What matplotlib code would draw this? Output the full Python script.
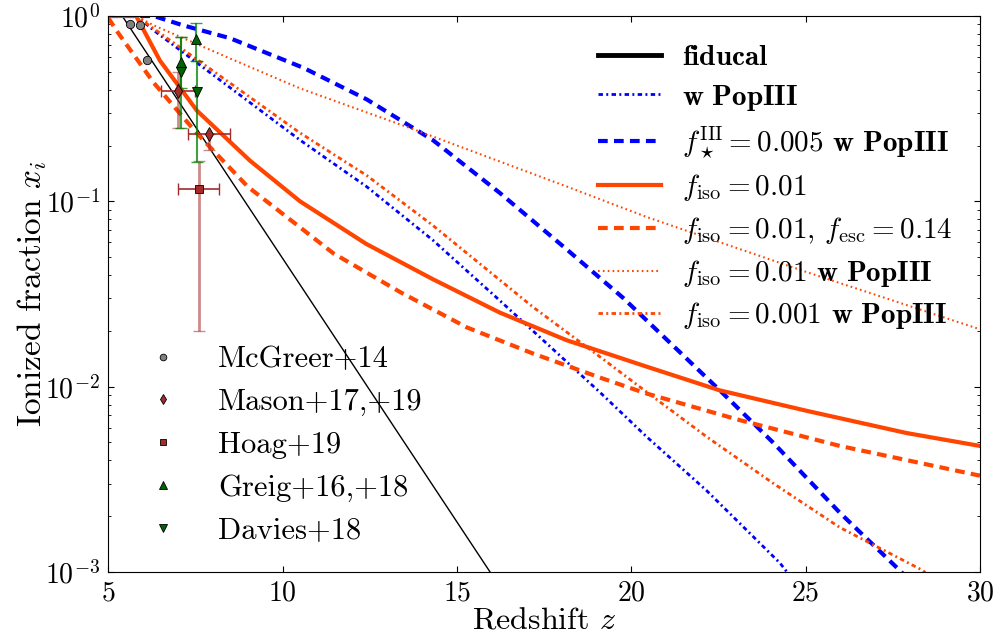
import matplotlib
matplotlib.use("Agg")
import matplotlib.pyplot as plt

plt.rcParams.update({
    "font.family": "serif",
    "font.serif": ["cmr10"],
    "mathtext.fontset": "cm",
    "axes.formatter.use_mathtext": True,
    "lines.scale_dashes": False,
    "xtick.direction": "in",
    "ytick.direction": "in",
    "xtick.top": True,
    "ytick.right": True,
    "xtick.major.size": 4,
    "ytick.major.size": 4,
    "ytick.minor.size": 2,
    "xtick.major.pad": 6,
    "ytick.major.pad": 6,
})

# ionization histories x_i(z)
z_fid = [5.0, 5.4, 8.0, 10.5, 13.0, 15.95, 16.2]
xi_fid = [1.0, 1.0, 0.182, 0.0355, 0.0069, 0.001, 0.00085]

z_p3 = [5.0, 5.8, 6.39, 10.5, 12.41, 14.31, 16.14, 17.18, 19.1, 20.44, 22.16, 24.26, 24.6]
xi_p3 = [1.0, 1.0, 0.813, 0.214, 0.120, 0.0617, 0.0302, 0.0200, 0.00933, 0.00537, 0.00275, 0.00112, 0.00093]

z_p3_low = [5.0, 6.3, 7.14, 8.49, 10.6, 12.41, 14.31, 16.23, 18.15, 19.76, 22.54, 24.06, 25.98, 27.7, 28.0]
xi_p3_low = [1.0, 1.0, 0.891, 0.759, 0.525, 0.355, 0.214, 0.111, 0.055, 0.0302, 0.00955, 0.00501, 0.00209, 0.00102, 0.00089]

z_iso = [5.0, 5.8, 6.48, 7.54, 9.06, 10.5, 12.4, 14.31, 16.23, 18.15, 20.4, 22.54, 25.03, 27.9, 30.0]
xi_iso = [1.0, 1.0, 0.575, 0.309, 0.166, 0.100, 0.0589, 0.0380, 0.0251, 0.0178, 0.0129, 0.00955, 0.00741, 0.00562, 0.00479]

z_iso_esc = [5.0, 5.24, 6.3, 7.53, 9.0, 10.5, 11.45, 13.37, 15.28, 17.18, 19.1, 20.4, 23.1, 25.98, 30.0]
xi_iso_esc = [0.977, 0.832, 0.437, 0.234, 0.120, 0.0724, 0.0525, 0.0324, 0.0209, 0.0151, 0.0112, 0.00923, 0.00661, 0.00479, 0.00331]

z_iso_p3 = [5.0, 5.8, 6.3, 8.5, 10.5, 13.8, 18.16, 20.45, 25.0, 30.0]
xi_iso_p3 = [1.0, 1.0, 0.891, 0.589, 0.407, 0.243, 0.120, 0.0822, 0.0417, 0.0204]

z_iso3_p3 = [5.0, 5.8, 6.39, 10.5, 12.41, 14.31, 17.18, 19.1, 20.45, 22.16, 24.06, 25.98, 28.36, 28.6]
xi_iso3_p3 = [1.0, 1.0, 0.832, 0.234, 0.138, 0.0741, 0.0269, 0.0145, 0.00933, 0.00537, 0.00302, 0.00174, 0.00102, 0.00093]

# observational constraints
z_mcgreer = [5.62, 5.91, 6.10]
xi_mcgreer = [0.91, 0.89, 0.58]

z_mason = [6.99, 7.90]
xi_mason = [0.395, 0.231]
xerr_mason = [[0.47, 0.60], [0.51, 0.59]]
yerr_mason = [[0.145, 0.042], [0.105, 0.0]]

z_hoag = [7.59]
xi_hoag = [0.116]
xerr_hoag = [[0.59], [0.59]]
yerr_hoag = [[0.096], [0.05]]

z_greig = [7.085, 7.506]
xi_greig = [0.567, 0.749]
yerr_greig = [[0.157, 0.175], [0.206, 0.164]]

z_davies = [7.085, 7.535]
xi_davies = [0.50, 0.39]
yerr_davies = [[0.25, 0.226], [0.27, 0.184]]


fig = plt.figure(figsize=(9.97, 6.37), dpi=100)
ax = fig.add_axes([0.1086, 0.102, 0.8743, 0.8729])

orange = "orangered"
bold_p3 = r"$\mathbf{w\ PopIII}$"
dashdot = (0, (3.2, 2.4, 1.4, 2.4))
dashed = (0, (7, 4.5))

ax.plot(z_fid, xi_fid, color="k", lw=1, label=r"$\mathbf{fiducal}$")
ax.plot(z_p3, xi_p3, color="blue", lw=2, ls=dashdot, label=bold_p3)
ax.plot(z_p3_low, xi_p3_low, color="blue", lw=3, ls=dashed,
        label=r"$f_\star^{\rm III}=0.005$ " + bold_p3)
ax.plot(z_iso, xi_iso, color=orange, lw=3, label=r"$f_{\rm iso}=0.01$")
ax.plot(z_iso_esc, xi_iso_esc, color=orange, lw=3, ls=dashed,
        label=r"$f_{\rm iso}=0.01$, $f_{\rm esc}=0.14$")
ax.plot(z_iso_p3, xi_iso_p3, color=orange, lw=1.5, ls=(0, (1.2, 2.3)),
        label=r"$f_{\rm iso}=0.01$ " + bold_p3)
ax.plot(z_iso3_p3, xi_iso3_p3, color=orange, lw=2, ls=dashdot,
        label=r"$f_{\rm iso}=0.001$ " + bold_p3)

leg_lines = ax.legend(loc="upper left", bbox_to_anchor=(0.548, 0.9695),
                      borderaxespad=0, frameon=False, fontsize=21,
                      handlelength=2.19, handletextpad=0.72, labelspacing=0.40)
leg_lines.legend_handles[0].set_linewidth(3.5)
ax.add_artist(leg_lines)

# error bars: horizontal dark, vertical lighter
ax.errorbar(z_mason, xi_mason, xerr=xerr_mason, fmt="none", ecolor="brown",
            elinewidth=1.2, capsize=4, zorder=4)
ax.errorbar(z_hoag, xi_hoag, xerr=xerr_hoag, fmt="none", ecolor="brown",
            elinewidth=1.2, capsize=4, zorder=4)
ax.errorbar(z_mason, xi_mason, yerr=yerr_mason, fmt="none", ecolor="brown",
            alpha=0.55, elinewidth=2, capsize=4, zorder=4)
ax.errorbar(z_hoag, xi_hoag, yerr=yerr_hoag, fmt="none", ecolor="brown",
            alpha=0.55, elinewidth=2, capsize=4, zorder=4)
ax.errorbar(z_greig, xi_greig, yerr=yerr_greig, fmt="none", ecolor="green",
            alpha=0.75, elinewidth=1.5, capsize=4, zorder=4)
ax.errorbar(z_davies, xi_davies, yerr=yerr_davies, fmt="none", ecolor="green",
            alpha=0.75, elinewidth=1.5, capsize=4, zorder=4)

marker_kw = dict(ls="none", mec="k", mew=0.6, zorder=5)
h1, = ax.plot(z_mcgreer, xi_mcgreer, marker="o", ms=6, mfc="gray",
              label="McGreer+14", **marker_kw)
h2, = ax.plot(z_mason, xi_mason, marker="d", ms=7, mfc="brown",
              label="Mason+17,+19", **marker_kw)
h3, = ax.plot(z_hoag, xi_hoag, marker="s", ms=5.5, mfc="brown",
              label="Hoag+19", **marker_kw)
h4, = ax.plot(z_greig, xi_greig, marker="^", ms=7, mfc="darkgreen",
              label="Greig+16,+18", **marker_kw)
h5, = ax.plot(z_davies, xi_davies, marker="v", ms=7, mfc="darkgreen",
              label="Davies+18", **marker_kw)

ax.legend(handles=[h1, h2, h3, h4, h5], loc="lower left",
          bbox_to_anchor=(0.031, 0.0275), borderaxespad=0, frameon=False,
          fontsize=22, numpoints=1, markerscale=0.8, handlelength=1.0,
          handletextpad=1.3, labelspacing=0.50)

ax.set_yscale("log")
ax.set_xlim(5, 30)
ax.set_ylim(1e-3, 1)
ax.set_xticks([5, 10, 15, 20, 25, 30])
ax.tick_params(labelsize=20)
ax.set_xlabel(r"Redshift $z$", fontsize=23, labelpad=0)
ax.set_ylabel(r"Ionized fraction $x_i$", fontsize=24, labelpad=-3)

fig.savefig("out.png", dpi=100)
